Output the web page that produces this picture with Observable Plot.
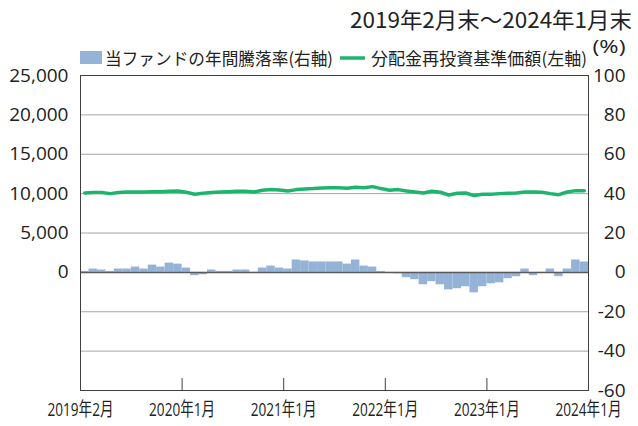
<!DOCTYPE html>
<html><head><meta charset="utf-8">
<script src="https://cdn.jsdelivr.net/npm/d3@7"></script>
<script src="https://cdn.jsdelivr.net/npm/@observablehq/plot@0.6"></script>
<style>
body{margin:0;background:#fff;}
#wrap{position:relative;width:638px;height:426px;}
#over{position:absolute;left:0;top:0;pointer-events:none;}
</style></head><body><div id="wrap"></div>
<script>
// Month-end dates (2019年2月末 ~ 2024年1月末)
const months = [
 "2019-02","2019-03","2019-04","2019-05","2019-06","2019-07","2019-08","2019-09","2019-10","2019-11","2019-12","2020-01",
 "2020-02","2020-03","2020-04","2020-05","2020-06","2020-07","2020-08","2020-09","2020-10","2020-11","2020-12","2021-01",
 "2021-02","2021-03","2021-04","2021-05","2021-06","2021-07","2021-08","2021-09","2021-10","2021-11","2021-12","2022-01",
 "2022-02","2022-03","2022-04","2022-05","2022-06","2022-07","2022-08","2022-09","2022-10","2022-11","2022-12","2023-01",
 "2023-02","2023-03","2023-04","2023-05","2023-06","2023-07","2023-08","2023-09","2023-10","2023-11","2023-12","2024-01"
];
// 当ファンドの年間騰落率 (%), right axis
const annualReturn = [
 0.5,1.7,1.2,0.5,1.7,1.7,2.7,1.7,3.7,2.7,4.7,4.2,
 2.2,-1.7,-1.2,1.2,0.5,0.5,1.2,1.2,0.1,2.2,3.2,2.2,
 1.7,6.3,5.8,5.3,5.3,5.3,5.3,4.2,6.3,3.2,2.7,0.5,
 -0.2,-0.7,-2.7,-3.7,-6.3,-4.7,-6.3,-8.9,-8.3,-7.3,-10.4,-7.3,
 -5.8,-5.3,-3.2,-2.2,1.7,-1.7,0.1,1.7,-2.2,1.7,6.3,5.3
];
// 分配金再投資基準価額 (円), left axis
const navReinvested = [
 10080,10130,10130,10000,10130,10210,10210,10210,10250,10250,10300,10340,
 10170,9920,10040,10130,10210,10250,10300,10300,10210,10420,10510,10470,
 10340,10510,10590,10640,10720,10760,10760,10680,10800,10760,10890,10640,
 10420,10510,10340,10210,10080,10300,10170,9830,10040,10080,9750,9920,
 9920,10000,10040,10080,10210,10210,10170,10000,9870,10210,10380,10380
];
const xTickLabels = ["2019年2月","2020年1月","2021年1月","2022年1月","2023年1月","2024年1月"];
const xTickIndex = [0,12,24,36,48,60];
const leftTicks = [0,5000,10000,15000,20000,25000];
const rightTicks = [100,80,60,40,20,0,-20,-40,-60];
const gridTicks = [20000,15000,10000,5000,-5000,-10000];
const ratio = 250; // 1% on right axis = 250円 on left axis

const title = "2019年2月末～2024年1月末";
const legend1 = "当ファンドの年間騰落率(右軸)";
const legend2 = "分配金再投資基準価額(左軸)";

const rows = months.map((m,i)=>({i, m, r: annualReturn[i]*ratio, p: navReinvested[i]}));

const barColor = "#95b3d7", lineColor = "#1fb46e";

const chart = Plot.plot({
  width:638, height:426,
  marginLeft:80, marginRight:50, marginTop:75, marginBottom:36,
  x:{domain:[0,60], label:null},
  y:{domain:[-15000,25000], label:null},
  style:{fontFamily:"'Open Sans','Noto Sans CJK JP',sans-serif", fontSize:"19px", color:"#222", background:"#fff"},
  marks:[
    Plot.ruleY(gridTicks, {stroke:"#a6a6a6", strokeWidth:1}),
    Plot.rect(rows, {x1:"i", x2:d=>d.i+1, y1:0, y2:"r", fill:barColor}),
    Plot.ruleY([0], {stroke:"#5a5a5a", strokeWidth:1.5}),
    Plot.ruleX(xTickIndex, {stroke:"#404040", insetTop:303}),
    Plot.lineY(rows, {x:d=>d.i+0.5, y:"p", stroke:lineColor, strokeWidth:3.5, strokeLinejoin:"round", strokeLinecap:"round"}),
    Plot.frame({stroke:"#404040"}),
    Plot.axisY({anchor:"left", label:null, ticks:leftTicks, tickFormat:d3.format(","), tickSize:0, tickPadding:12, fill:"#222"}),
    Plot.axisY({anchor:"right", label:null, ticks:rightTicks.map(d=>d*ratio), tickFormat:d=>String(d/ratio), tickSize:0, tickPadding:37, textAnchor:"end", fill:"#222"}),
    Plot.axisX({label:null, ticks:xTickIndex, tickFormat:(d)=>xTickLabels[xTickIndex.indexOf(d)], tickSize:0, tickPadding:12, fontSize:19, fill:"#222"})
  ]
});
const wrap = document.getElementById("wrap");
wrap.appendChild(chart);

// compress x labels like the reference
d3.select(chart).selectAll('g[aria-label="x-axis tick label"] text')
  .attr("textLength",66).attr("lengthAdjust","spacingAndGlyphs");

// header: title + legend
const over = d3.select(wrap).append("svg").attr("id","over").attr("width",638).attr("height",75)
  .style("font-family","'Noto Sans CJK JP','Open Sans',sans-serif");
over.append("text").text(title).attr("x",632).attr("y",18).attr("text-anchor","end")
  .attr("dominant-baseline","central").attr("font-size",22).attr("fill","#222")
  .attr("textLength",282).attr("lengthAdjust","spacingAndGlyphs");
over.append("rect").attr("x",80).attr("y",51).attr("width",22).attr("height",13).attr("fill",barColor);
over.append("text").text(legend1).attr("x",105).attr("y",57).attr("dominant-baseline","central")
  .attr("font-size",17).attr("fill","#222").attr("textLength",228).attr("lengthAdjust","spacingAndGlyphs");
over.append("line").attr("x1",340).attr("x2",365).attr("y1",58).attr("y2",58)
  .attr("stroke",lineColor).attr("stroke-width",3.5);
over.append("text").text(legend2).attr("x",371).attr("y",57).attr("dominant-baseline","central")
  .attr("font-size",17).attr("fill","#222").attr("textLength",216).attr("lengthAdjust","spacingAndGlyphs");
over.append("text").text("(%)").attr("x",609).attr("y",46).attr("text-anchor","middle").attr("dominant-baseline","central")
  .attr("font-size",18).attr("fill","#222").attr("font-family","'Open Sans',sans-serif")
  .attr("textLength",33).attr("lengthAdjust","spacingAndGlyphs");
</script></body></html>
